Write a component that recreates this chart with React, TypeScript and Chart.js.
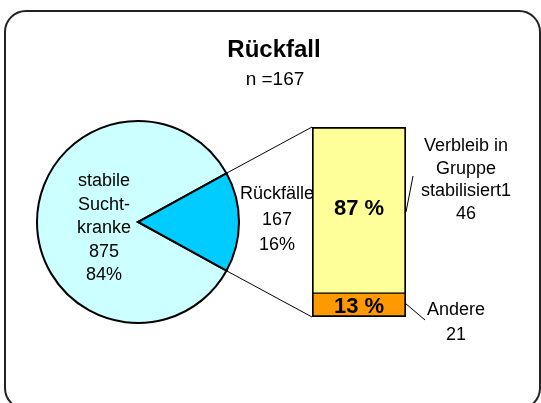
import React, { useEffect, useRef } from 'react';
import { Chart, registerables } from 'chart.js';

Chart.register(...registerables);

const W = 541;
const H = 403;
const FONT = '"Liberation Sans", Arial, Helvetica, sans-serif';

const titleText = 'Rückfall';
const subtitleText = 'n =167';

const pieCategories = ['stabile Suchtkranke', 'Rückfälle'];
const pieValues = [875, 167];
const pieLabelLines = [
  ['stabile', 'Sucht-', 'kranke', '875', '84%'],
  ['Rückfälle', '167', '16%'],
];
const pieColors = ['#CCFFFF', '#00CCFF'];

const barCategories = ['Andere', 'Verbleib in Gruppe stabilisiert'];
const barValues = [21, 146];
const barLabelLines = [
  ['Andere', '21'],
  ['Verbleib in', 'Gruppe', 'stabilisiert1', '46'],
];
const barPercentLabels = ['13 %', '87 %'];
const barColors = ['#FF9900', '#FFFF99'];

export default function App() {
  const pieCanvas = useRef<HTMLCanvasElement | null>(null);
  const barCanvas = useRef<HTMLCanvasElement | null>(null);

  useEffect(() => {
    const pieTotal = pieValues.reduce((a, b) => a + b, 0);
    const slice1Deg = (pieValues[1] / pieTotal) * 360;
    const rotation = 90 + slice1Deg / 2;

    const pie = new Chart(pieCanvas.current as HTMLCanvasElement, {
      type: 'pie',
      data: {
        labels: pieCategories,
        datasets: [
          {
            data: pieValues,
            backgroundColor: pieColors,
            borderColor: '#000',
            borderWidth: 2,
            borderJoinStyle: 'miter',
          } as any,
        ],
      },
      options: {
        responsive: false,
        animation: false,
        devicePixelRatio: 1,
        rotation,
        radius: 101,
        layout: { padding: { left: 37, top: 121, right: 302, bottom: 80 } },
        plugins: { legend: { display: false }, tooltip: { enabled: false }, title: { display: false } },
      } as any,
    });

    const barTotal = barValues.reduce((a, b) => a + b, 0);

    const overlay = {
      id: 'overlay',
      afterDraw(chart: any) {
        const ctx = chart.ctx as CanvasRenderingContext2D;
        const arc = pie.getDatasetMeta(0).data[1] as any;
        const a = arc.getProps(['x', 'y', 'startAngle', 'endAngle', 'outerRadius'], true);
        const cx = a.x, cy = a.y, r = a.outerRadius;
        const b0 = (chart.getDatasetMeta(0).data[0] as any).getProps(['x', 'y', 'base', 'width'], true);
        const b1 = (chart.getDatasetMeta(1).data[0] as any).getProps(['x', 'y', 'base', 'width'], true);
        const left = b1.x - b1.width / 2;
        const right = b1.x + b1.width / 2;
        const top = b1.y;
        const bottom = b0.base;

        ctx.save();
        ctx.strokeStyle = '#000';
        ctx.lineWidth = 1;
        ctx.beginPath();
        ctx.moveTo(cx + r * Math.cos(a.startAngle), cy + r * Math.sin(a.startAngle));
        ctx.lineTo(left, top);
        ctx.moveTo(cx + r * Math.cos(a.endAngle), cy + r * Math.sin(a.endAngle));
        ctx.lineTo(left, bottom);
        // leader lines
        ctx.moveTo(right, top + 85);
        ctx.lineTo(right + 7, top + 49);
        ctx.moveTo(right - 1, bottom - 14);
        ctx.lineTo(right + 19, bottom + 3);
        ctx.stroke();

        ctx.fillStyle = '#000';
        ctx.textAlign = 'center';
        ctx.textBaseline = 'alphabetic';

        // title
        ctx.font = `bold 24px ${FONT}`;
        ctx.fillText(titleText, 274, 57);
        ctx.font = `19px ${FONT}`;
        ctx.fillText(subtitleText, 275, 85);

        // pie labels
        ctx.font = `18px ${FONT}`;
        pieLabelLines[0].forEach((t, i) => ctx.fillText(t, cx - 34, cy - 36 + i * 23.5));
        pieLabelLines[1].forEach((t, i) => ctx.fillText(t, cx + 139, cy - 23 + i * 25.5));

        // bar side labels
        barLabelLines[1].forEach((t, i) => ctx.fillText(t, right + 60, top + 24 + i * 22.7));
        barLabelLines[0].forEach((t, i) => ctx.fillText(t, right + 50, bottom - 2 + i * 25));

        // percent labels
        ctx.font = `bold 22px ${FONT}`;
        ctx.fillText(barPercentLabels[1], b1.x, (b1.y + b1.base) / 2 + 5);
        ctx.fillText(barPercentLabels[0], b0.x, (b0.y + b0.base) / 2 + 8);
        ctx.restore();
      },
    };

    const bar = new Chart(barCanvas.current as HTMLCanvasElement, {
      type: 'bar',
      data: {
        labels: [''],
        datasets: [
          {
            label: barCategories[0],
            data: [barValues[0]],
            backgroundColor: barColors[0],
            borderColor: '#000',
            borderWidth: { top: 1, left: 2, right: 2, bottom: 2 },
            borderSkipped: false,
            barPercentage: 1,
            categoryPercentage: 1,
          },
          {
            label: barCategories[1],
            data: [barValues[1]],
            backgroundColor: barColors[1],
            borderColor: '#000',
            borderWidth: { top: 2, left: 2, right: 2, bottom: 1 },
            borderSkipped: false,
            barPercentage: 1,
            categoryPercentage: 1,
          },
        ],
      } as any,
      options: {
        responsive: false,
        animation: false,
        devicePixelRatio: 1,
        layout: { padding: { left: 312, top: 127, right: 135, bottom: 86 } },
        scales: {
          x: { display: false, stacked: true },
          y: { display: false, stacked: true, min: 0, max: barTotal },
        },
        plugins: { legend: { display: false }, tooltip: { enabled: false }, title: { display: false } },
      } as any,
      plugins: [overlay],
    });

    return () => {
      bar.destroy();
      pie.destroy();
    };
  }, []);

  const abs: React.CSSProperties = { position: 'absolute', left: 0, top: 0 };
  return (
    <div style={{ position: 'fixed', left: 0, top: 0, width: W, height: H, overflow: 'hidden', background: '#fff' }}>
      <div
        style={{
          position: 'absolute',
          left: 4,
          top: 10,
          width: 537,
          height: 400,
          boxSizing: 'border-box',
          border: '2px solid #222',
          borderRadius: 22,
        }}
      />
      <canvas ref={pieCanvas} width={W} height={H} style={{ ...abs, width: W, height: H }} />
      <canvas ref={barCanvas} width={W} height={H} style={{ ...abs, width: W, height: H }} />
    </div>
  );
}
